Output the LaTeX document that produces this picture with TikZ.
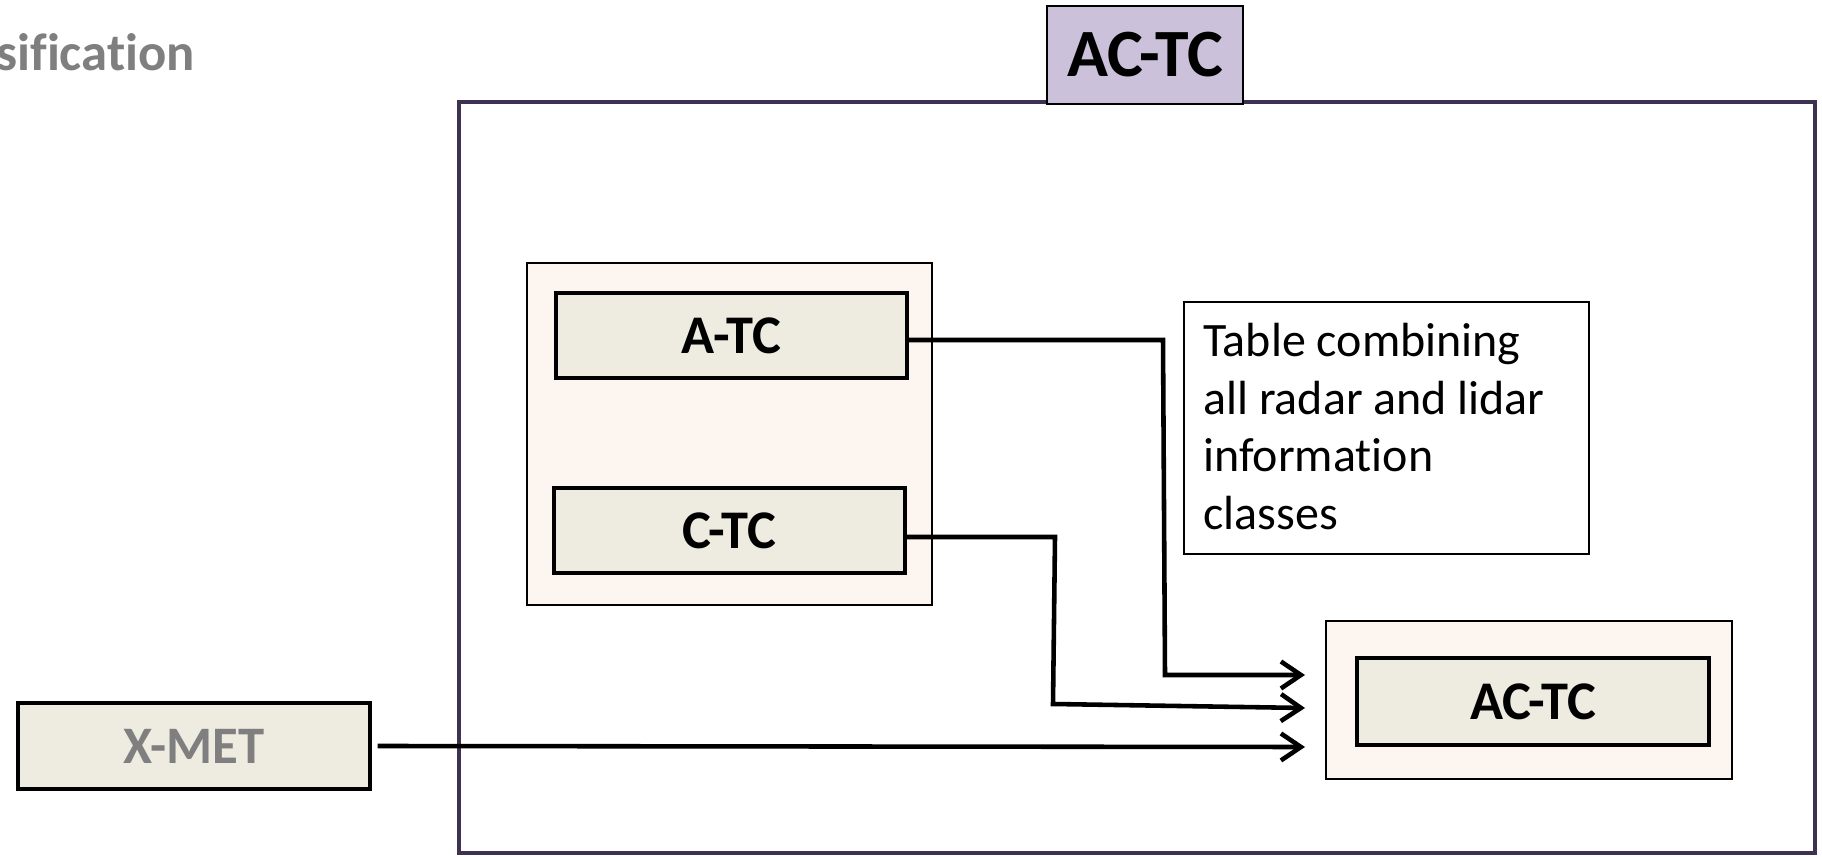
\documentclass[tikz,border=0pt]{standalone}
\usepackage{fontspec}
\setmainfont{Carlito}[Ligatures=CommonOff]
\usetikzlibrary{arrows.meta}
\definecolor{framec}{HTML}{3F3151}
\definecolor{titlefill}{HTML}{CCC1DA}
\definecolor{peach}{HTML}{FDF5F0}
\definecolor{graybox}{HTML}{EEECE1}
\definecolor{graytext}{HTML}{7F7F7F}
\tikzset{
  labelbox/.style={draw=black, line width=1.8pt, fill=graybox, inner sep=0pt,
    font=\bfseries\fontsize{31}{34}\selectfont},
  groupbox/.style={draw=black, line width=1.1pt, fill=peach, inner sep=0pt},
  conn/.style={line width=2.6pt, -{Straight Barb[length=0.4cm,width=0.54cm]}},
}
\begin{document}
\begin{tikzpicture}[x=0.02cm,y=-0.02cm]
\useasboundingbox (0,0) rectangle (1822,857);
% outer frame
\node[draw=framec, line width=2.6pt, inner sep=0pt, minimum width=27.12cm, minimum height=15.02cm] (frame) at (1137,477.5) {};
% title
\node[draw=black, line width=1.1pt, fill=titlefill, inner sep=0pt, minimum width=3.92cm, minimum height=1.96cm,
  font=\bfseries\fontsize{38.5}{42}\selectfont] (title) at (1145,55) {AC-TC};
% clipped heading
\node[anchor=base west, inner sep=0pt, text=graytext, font=\bfseries\fontsize{30}{33}\selectfont] (heading) at (-4,71) {sification};
% left group
\node[groupbox, minimum width=8.1cm, minimum height=6.84cm] (lgroup) at (729.5,434) {};
\node[labelbox, minimum width=7.02cm, minimum height=1.7cm] (atc) at (731.5,335.5) {A-TC};
\node[labelbox, minimum width=7.02cm, minimum height=1.7cm] (ctc) at (729.5,530.5) {C-TC};
% text box
\node[draw=black, line width=1.1pt, fill=white, inner sep=0pt, minimum width=8.1cm, minimum height=5.04cm] (tbox) at (1386.5,428) {};
\node[anchor=north west, inner sep=0pt, align=left, font=\fontsize{27.3}{32.8}\selectfont] (ttext) at (1203,323)
  {Table combining\\all radar and lidar\\information\\classes};
% right group
\node[groupbox, minimum width=8.12cm, minimum height=3.16cm] (rgroup) at (1529,700) {};
\node[labelbox, minimum width=7.04cm, minimum height=1.74cm] (actc) at (1533,701.5) {AC-TC};
% X-MET
\node[labelbox, minimum width=7.04cm, minimum height=1.72cm, text=graytext, font=\bfseries\fontsize{30}{33}\selectfont] (xmet) at (194,746) {X-MET};
% connectors
\coordinate (t1) at (1305,675);
\coordinate (t2) at (1305,708);
\coordinate (t3) at (1305,747);
\draw[conn] ([yshift=-0.09cm]atc.east) -- (1163,340) -- (1165,675) -- (t1);
\draw[conn] ([yshift=-0.13cm]ctc.east) -- (1055,537) -- (1053,704) -- (t2);
\draw[conn] ([xshift=0.12cm]xmet.east) -- (t3);
\end{tikzpicture}
\end{document}
